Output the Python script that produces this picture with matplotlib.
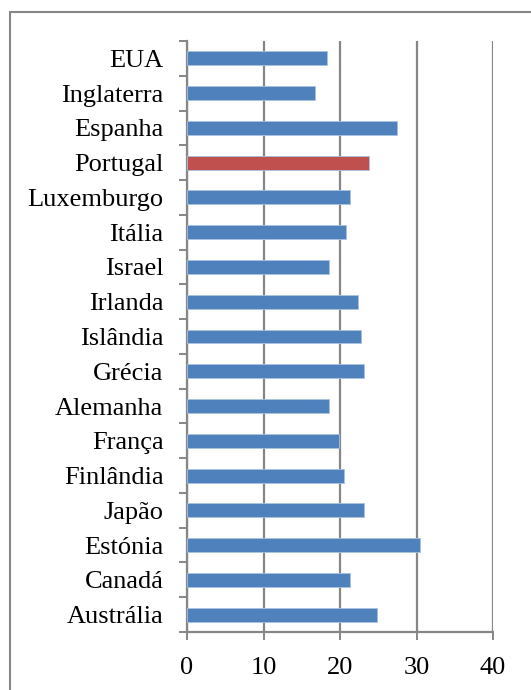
import matplotlib.pyplot as plt
from matplotlib.patches import Rectangle

paises = ['Austrália', 'Canadá', 'Estónia', 'Japão', 'Finlândia', 'França',
          'Alemanha', 'Grécia', 'Islândia', 'Irlanda', 'Israel', 'Itália',
          'Luxemburgo', 'Portugal', 'Espanha', 'Inglaterra', 'EUA']
valores = [24.8, 21.3, 30.4, 23.1, 20.5, 19.9,
           18.6, 23.2, 22.7, 22.4, 18.6, 20.8,
           21.3, 23.8, 27.5, 16.7, 18.3]
destaque = 'Portugal'

azul = '#4F81BD'
vermelho = '#C0504D'
cinza = '#868686'

plt.rcParams['font.family'] = ['Liberation Serif', 'DejaVu Serif']

fig = plt.figure(figsize=(5.31, 6.90), dpi=100)
# moldura do gráfico (continua para lá da margem direita e inferior)
fig.patches.append(Rectangle((10 / 531, -0.1), 1.2, 1.1 - 12 / 690,
                             transform=fig.transFigure, fill=False,
                             edgecolor=cinza, linewidth=1.5, clip_on=False))

ax = fig.add_axes([187 / 531, 1 - 632 / 690, (493 - 187) / 531, (632 - 41) / 690])

cores = [vermelho if p == destaque else azul for p in paises]
pos = list(range(len(paises)))
ax.barh(pos, valores, height=0.4, color=cores, edgecolor='#A9C2E0',
        linewidth=0.6, zorder=3)

ax.set_xlim(0, 40)
ax.set_ylim(-0.5, len(paises) - 0.5)
ax.set_xticks([0, 10, 20, 30, 40])
ax.set_yticks(pos)
ax.set_yticklabels(paises)
ax.set_yticks([p - 0.5 for p in pos] + [len(paises) - 0.5], minor=True)

ax.grid(axis='x', color=cinza, linewidth=1.6, zorder=0)
for s in ['top', 'right']:
    ax.spines[s].set_visible(False)
for s in ['left', 'bottom']:
    ax.spines[s].set_color(cinza)
    ax.spines[s].set_linewidth(1.6)

ax.tick_params(axis='y', which='major', length=0, pad=17, labelsize=19)
ax.tick_params(axis='y', which='minor', length=6, width=1.4, color=cinza)
ax.tick_params(axis='x', which='major', length=6, width=1.4, color=cinza,
               pad=12, labelsize=19)

fig.savefig('out.png', dpi=100)
